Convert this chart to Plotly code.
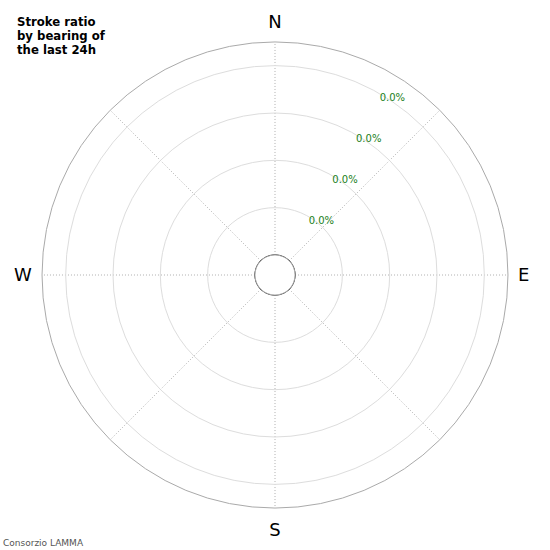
import plotly.graph_objects as go

# bearing sectors (degrees) and cardinal labels
bearings = [0, 45, 90, 135, 180, 225, 270, 315]
bearing_labels = ["N", "", "E", "", "S", "", "W", ""]

# radial rings and their labels (stroke ratio, all empty in the last 24h)
ring_values = [1, 2, 3, 4]
ring_labels = ["0.0%", "0.0%", "0.0%", "0.0%"]
label_bearing = 30

# inner circle outline
hole_theta = list(range(0, 361, 5))
hole_r = [0] * len(hole_theta)

title_lines = ["Stroke ratio", "by bearing of", "the last 24h"]

fig = go.Figure()

fig.add_trace(go.Scatterpolar(
    r=hole_r, theta=hole_theta, mode="lines",
    line=dict(color="black", width=1.1),
    hoverinfo="skip", showlegend=False,
))

# ring labels, placed just right of each ring at 30 degrees
fig.add_trace(go.Scatterpolar(
    r=ring_values, theta=[label_bearing] * len(ring_values),
    mode="text", text=ring_labels, textposition="bottom right",
    textfont=dict(size=10, color="#1a801a", family="DejaVu Sans"),
    hoverinfo="skip", showlegend=False,
))

annotations = []
for i, line in enumerate(title_lines):
    annotations.append(dict(
        text="<b>" + line + "</b>",
        x=15 / 550, y=1 - (22 + 14.2 * i) / 550, xref="paper", yref="paper",
        xanchor="left", yanchor="middle", showarrow=False,
        font=dict(size=11.7, color="black", family="DejaVu Sans"),
    ))
annotations.append(dict(
    text="Consorzio LAMMA",
    x=1 / 550, y=0, xref="paper", yref="paper",
    xanchor="left", yanchor="bottom", showarrow=False,
    font=dict(size=9, color="#555555", family="DejaVu Sans"),
))

fig.update_layout(
    width=550, height=550,
    margin=dict(l=0, r=0, t=0, b=0),
    paper_bgcolor="white",
    font=dict(family="DejaVu Sans", color="black"),
    showlegend=False,
    polar=dict(
        domain=dict(x=[0.0764, 0.9236], y=[0.0764, 0.9236]),
        bgcolor="white",
        hole=0.086,
        angularaxis=dict(
            direction="clockwise", rotation=90,
            tickmode="array", tickvals=bearings, ticktext=bearing_labels,
            tickfont=dict(size=18, color="black"),
            ticks="outside", ticklen=6, tickcolor="rgba(0,0,0,0)",
            showline=True, linecolor="#aaaaaa", linewidth=1,
            showgrid=True, gridcolor="#b0b0b0", griddash="1px,2px", gridwidth=1,
        ),
        radialaxis=dict(
            range=[0, 4.5], angle=45,
            tickmode="array", tickvals=ring_values,
            showticklabels=False, showline=False, ticks="",
            showgrid=True, gridcolor="#dddddd", gridwidth=1,
        ),
    ),
    annotations=annotations,
)

# drop the page's default body margin so the figure sits at the window corner
fig.write_html("out.html", config={"displayModeBar": False},
               post_script="document.body.style.margin='0';")
